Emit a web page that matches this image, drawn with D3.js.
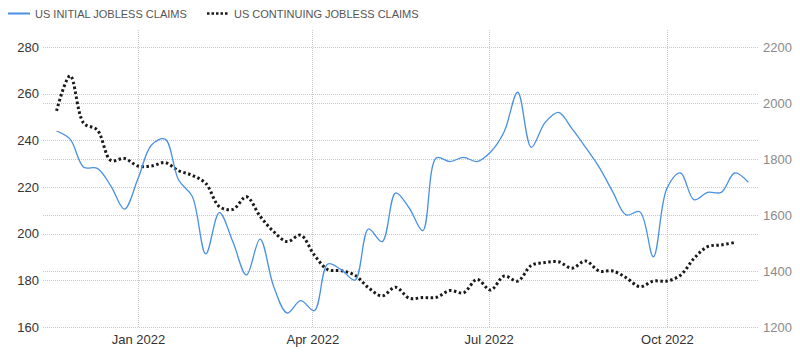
<!DOCTYPE html>
<html>
<head>
<meta charset="utf-8">
<script src="https://cdn.jsdelivr.net/npm/d3@7"></script>
<style>
  body { margin: 0; background: #fff; }
  svg { display: block; font-family: "Liberation Sans", Arial, sans-serif; }
</style>
</head>
<body>
<svg id="chart" width="800" height="362"></svg>
<script>
// weekly readings, first week ending Nov 20 2021
var firstWeek = new Date(2021, 10, 20);

var initialClaims = [244, 240.5, 228.5, 228, 220.5, 210.5, 223.5, 238, 240.5, 223,
  216, 191.3, 209, 196.5, 182.3, 197.7, 177.5, 166, 171.3, 167,
  187, 184.5, 180.1, 202, 196.6, 217.5, 211, 201.3, 232.5, 230.9,
  232.7, 230.9, 235, 243.7, 260.6, 237, 247.5, 252, 245, 237,
  228.5, 218, 208, 209.4, 190.1, 219.4, 226, 214.5, 217.7, 217.7,
  226, 222];

var continuingClaims = [1972, 2097, 1928, 1904, 1795, 1802, 1775, 1775, 1787, 1758,
  1742, 1713, 1630, 1620, 1665, 1596, 1541, 1505, 1528, 1457,
  1405, 1401, 1385, 1340, 1311, 1342, 1303, 1305, 1306, 1330,
  1322, 1370, 1332, 1382, 1364, 1420, 1430, 1433, 1410, 1436,
  1400, 1400, 1376, 1344, 1364, 1364, 1385, 1445, 1487, 1493,
  1502];

var leftTicks = [160, 180, 200, 220, 240, 260, 280];
var rightTicks = [1200, 1400, 1600, 1800, 2000, 2200];
var xTicks = [new Date(2022, 0, 1), new Date(2022, 3, 1), new Date(2022, 6, 1), new Date(2022, 9, 1)];
var legendNames = ["US INITIAL JOBLESS CLAIMS", "US CONTINUING JOBLESS CLAIMS"];

var svg = d3.select("#chart");
var plotL = 43, plotR = 758, plotT = 47, plotB = 327;

var x = d3.scaleTime()
  .domain([new Date(2021, 10, 13), new Date(2022, 10, 17)])
  .range([plotL, plotR]);
var yL = d3.scaleLinear().domain([160, 280]).range([plotB, plotT]);
var yR = d3.scaleLinear().domain([1200, 2200]).range([plotB, plotT]);

function weekDate(i) { return d3.timeDay.offset(firstWeek, 7 * i); }

// grid
var grid = svg.append("g").attr("stroke", "#c8c8c8").attr("stroke-width", 1)
  .attr("stroke-dasharray", "1,1");
grid.selectAll(".gl").data(leftTicks).enter().append("line")
  .attr("x1", plotL).attr("x2", plotR)
  .attr("y1", function (d) { return Math.round(yL(d)) + 0.5; })
  .attr("y2", function (d) { return Math.round(yL(d)) + 0.5; });
grid.selectAll(".gr").data(rightTicks).enter().append("line")
  .attr("x1", plotL).attr("x2", plotR)
  .attr("y1", function (d) { return Math.round(yR(d)) + 0.5; })
  .attr("y2", function (d) { return Math.round(yR(d)) + 0.5; });
grid.selectAll(".gx").data(xTicks).enter().append("line")
  .attr("y1", 30).attr("y2", plotB)
  .attr("x1", function (d) { return Math.round(x(d)) + 0.5; })
  .attr("x2", function (d) { return Math.round(x(d)) + 0.5; });

// axes
var axL = svg.append("g").attr("transform", "translate(" + plotL + ",0)")
  .call(d3.axisLeft(yL).tickValues(leftTicks).tickSize(0).tickPadding(4));
axL.select(".domain").remove();
axL.selectAll("text").attr("fill", "#333").attr("font-size", 13);

var axR = svg.append("g").attr("transform", "translate(" + plotR + ",0)")
  .call(d3.axisRight(yR).tickValues(rightTicks).tickFormat(d3.format("d")).tickSize(0).tickPadding(5));
axR.select(".domain").remove();
axR.selectAll("text").attr("fill", "#8a8a8a").attr("font-size", 13);

var axX = svg.append("g").attr("transform", "translate(0," + plotB + ")")
  .call(d3.axisBottom(x).tickValues(xTicks).tickFormat(d3.timeFormat("%b %Y")).tickSize(0).tickPadding(8));
axX.select(".domain").remove();
axX.selectAll("text").attr("fill", "#333").attr("font-size", 13);

// lines
var lineL = d3.line()
  .x(function (d, i) { return x(weekDate(i)); })
  .y(function (d) { return yL(d); })
  .curve(d3.curveCatmullRom.alpha(0.5));
var lineR = d3.line()
  .x(function (d, i) { return x(weekDate(i)); })
  .y(function (d) { return yR(d); })
  .curve(d3.curveCatmullRom.alpha(0.5));

svg.append("path").datum(continuingClaims)
  .attr("d", lineR).attr("fill", "none")
  .attr("stroke", "#1a1a1a").attr("stroke-width", 3)
  .attr("stroke-dasharray", "2.5,2.5");

svg.append("path").datum(initialClaims)
  .attr("d", lineL).attr("fill", "none")
  .attr("stroke", "#4a90e2").attr("stroke-width", 1.3);

// legend
var lg = svg.append("g").attr("font-size", 11).attr("fill", "#555");
lg.append("line").attr("x1", 8).attr("x2", 30).attr("y1", 13.5).attr("y2", 13.5)
  .attr("stroke", "#4a90e2").attr("stroke-width", 2);
lg.append("text").attr("x", 35).attr("y", 18).text(legendNames[0]);
lg.append("line").attr("x1", 207).attr("x2", 229).attr("y1", 13.5).attr("y2", 13.5)
  .attr("stroke", "#1a1a1a").attr("stroke-width", 2.5).attr("stroke-dasharray", "2.5,2");
lg.append("text").attr("x", 234).attr("y", 18).text(legendNames[1]);
</script>
</body>
</html>
